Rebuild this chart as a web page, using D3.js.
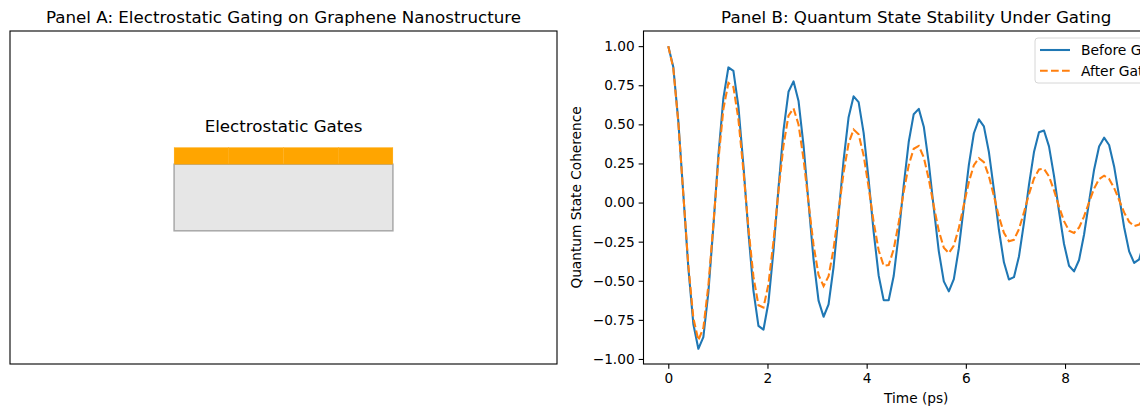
<!DOCTYPE html>
<html>
<head>
<meta charset="utf-8">
<script src="https://cdn.jsdelivr.net/npm/d3@7"></script>
<style>
  body { margin: 0; background: #fff; }
  svg { display: block; font-family: "DejaVu Sans", sans-serif; }
</style>
</head>
<body>
<div id="chart"></div>
<script>
// time samples (ps)
var timePs = [0.000, 0.101, 0.202, 0.303, 0.404, 0.505, 0.606, 0.707, 0.808, 0.909,
  1.010, 1.111, 1.212, 1.313, 1.414, 1.515, 1.616, 1.717, 1.818, 1.919,
  2.020, 2.121, 2.222, 2.323, 2.424, 2.525, 2.626, 2.727, 2.828, 2.929,
  3.030, 3.131, 3.232, 3.333, 3.434, 3.535, 3.636, 3.737, 3.838, 3.939,
  4.040, 4.141, 4.242, 4.343, 4.444, 4.545, 4.646, 4.747, 4.848, 4.949,
  5.051, 5.152, 5.253, 5.354, 5.455, 5.556, 5.657, 5.758, 5.859, 5.960,
  6.061, 6.162, 6.263, 6.364, 6.465, 6.566, 6.667, 6.768, 6.869, 6.970,
  7.071, 7.172, 7.273, 7.374, 7.475, 7.576, 7.677, 7.778, 7.879, 7.980,
  8.081, 8.182, 8.283, 8.384, 8.485, 8.586, 8.687, 8.788, 8.889, 8.990,
  9.091, 9.192, 9.293, 9.394, 9.495, 9.596, 9.697, 9.798, 9.899, 10.000];

var beforeGating = [1.000, 0.866, 0.521, 0.054, -0.417, -0.776, -0.935, -0.860, -0.574, -0.152,
  0.300, 0.668, 0.864, 0.842, 0.613, 0.236, -0.191, -0.563, -0.788, -0.813,
  -0.637, -0.307, 0.092, 0.461, 0.708, 0.775, 0.650, 0.366, -0.003, -0.364,
  -0.627, -0.730, -0.651, -0.412, -0.076, 0.272, 0.546, 0.679, 0.642, 0.446,
  0.145, -0.187, -0.466, -0.624, -0.624, -0.470, -0.203, 0.109, 0.387, 0.565,
  0.599, 0.485, 0.252, -0.038, -0.312, -0.504, -0.568, -0.490, -0.292, -0.026,
  0.241, 0.443, 0.532, 0.487, 0.323, 0.082, -0.174, -0.382, -0.492, -0.477,
  -0.345, -0.130, 0.113, 0.323, 0.449, 0.461, 0.359, 0.171, -0.056, -0.265,
  -0.404, -0.440, -0.367, -0.204, 0.005, 0.210, 0.358, 0.415, 0.368, 0.231,
  0.040, -0.158, -0.312, -0.386, -0.363, -0.251, -0.079, 0.109, 0.267, 0.355];

var afterGating = [1.000, 0.858, 0.511, 0.052, -0.401, -0.738, -0.880, -0.802, -0.530, -0.139,
  0.271, 0.598, 0.765, 0.739, 0.532, 0.203, -0.163, -0.474, -0.657, -0.671,
  -0.521, -0.248, 0.074, 0.365, 0.556, 0.602, 0.499, 0.278, -0.002, -0.271,
  -0.463, -0.534, -0.471, -0.295, -0.054, 0.191, 0.379, 0.467, 0.437, 0.301,
  0.097, -0.124, -0.305, -0.404, -0.400, -0.299, -0.128, 0.068, 0.239, 0.344,
  0.362, 0.289, 0.149, -0.022, -0.181, -0.289, -0.323, -0.275, -0.163, -0.014,
  0.132, 0.239, 0.284, 0.258, 0.169, 0.042, -0.090, -0.194, -0.247, -0.238,
  -0.170, -0.063, 0.054, 0.154, 0.212, 0.216, 0.167, 0.078, -0.026, -0.119,
  -0.180, -0.194, -0.160, -0.088, 0.002, 0.089, 0.150, 0.172, 0.151, 0.094,
  0.016, -0.063, -0.123, -0.151, -0.141, -0.096, -0.030, 0.041, 0.099, 0.131];

var seriesNames = ["Before Gating", "After Gating"];
var xTicks = [0, 2, 4, 6, 8];
var yTicks = [-1.00, -0.75, -0.50, -0.25, 0.00, 0.25, 0.50, 0.75, 1.00];

// panel A pieces, in data units of a 0..10 box
var gateX = [3, 4, 5, 6];
var gateWidth = 1, gateY = 6, gateHeight = 0.5;
var grapheneBox = {x: 3, y: 4, w: 4, h: 2};

var svgWidth = 1140, svgHeight = 409;
var tickFont = "13.7px", titleFont = "16.7px";
var lineW = 2.08, dash = "7.7,3.3";

var svg = d3.select("#chart").append("svg")
  .attr("width", svgWidth)
  .attr("height", svgHeight);

// ---------- Panel A ----------
var a = {left: 10, right: 557, top: 31, bottom: 364};
var ax = d3.scaleLinear().domain([0, 10]).range([a.left, a.right]);
var ay = d3.scaleLinear().domain([0, 10]).range([a.bottom, a.top]);

var gA = svg.append("g");

gA.append("rect")
  .attr("x", ax(grapheneBox.x))
  .attr("y", ay(grapheneBox.y + grapheneBox.h))
  .attr("width", ax(grapheneBox.x + grapheneBox.w) - ax(grapheneBox.x))
  .attr("height", ay(grapheneBox.y) - ay(grapheneBox.y + grapheneBox.h))
  .attr("fill", "#e6e6e6")
  .attr("stroke", "#a8a8a8")
  .attr("stroke-width", 1.5);

gA.selectAll(".gate")
  .data(gateX)
  .enter()
  .append("rect")
  .attr("class", "gate")
  .attr("x", d => ax(d))
  .attr("y", ay(gateY + gateHeight))
  .attr("width", ax(gateWidth) - ax(0))
  .attr("height", ay(gateY) - ay(gateY + gateHeight))
  .attr("fill", "#ffa500")
  .attr("stroke", "#ffaa10")
  .attr("stroke-width", 0.3);

gA.append("text")
  .attr("x", ax(5))
  .attr("y", 132)
  .attr("text-anchor", "middle")
  .attr("font-size", "16.7px")
  .text("Electrostatic Gates");

gA.append("rect")
  .attr("x", a.left).attr("y", a.top)
  .attr("width", a.right - a.left).attr("height", a.bottom - a.top)
  .attr("fill", "none").attr("stroke", "#000").attr("stroke-width", 1.1);

gA.append("text")
  .attr("x", (a.left + a.right) / 2)
  .attr("y", 23)
  .attr("text-anchor", "middle")
  .attr("font-size", titleFont)
  .text("Panel A: Electrostatic Gating on Graphene Nanostructure");

// ---------- Panel B ----------
var b = {left: 643.5, right: 1189, top: 31, bottom: 364};
var xScale = d3.scaleLinear().domain([-0.5, 10.5]).range([b.left, b.right]);
var yScale = d3.scaleLinear().domain([-1.0321, 1.0968]).range([b.bottom, b.top]);

var gB = svg.append("g");

gB.append("clipPath").attr("id", "clipB")
  .append("rect")
  .attr("x", b.left).attr("y", b.top)
  .attr("width", b.right - b.left).attr("height", b.bottom - b.top);

var xAxis = d3.axisBottom(xScale).tickValues(xTicks).tickSize(4.86).tickPadding(4)
  .tickFormat(d3.format("d"));
var yAxis = d3.axisLeft(yScale).tickValues(yTicks).tickSize(4.86).tickPadding(4)
  .tickFormat(d => d3.format(".2f")(d).replace("-", "\u2212"));

var gx = gB.append("g")
  .attr("transform", `translate(0, ${b.bottom})`)
  .call(xAxis);
var gy = gB.append("g")
  .attr("transform", `translate(${b.left}, 0)`)
  .call(yAxis);

[gx, gy].forEach(function(g) {
  g.select(".domain").remove();
  g.selectAll(".tick line").attr("stroke", "#000").attr("stroke-width", 1.1);
  g.selectAll(".tick text").attr("fill", "#000").attr("font-size", tickFont)
    .attr("font-family", "DejaVu Sans, sans-serif");
});

var plotArea = gB.append("g").attr("clip-path", "url(#clipB)");

var line = d3.line()
  .x((d, i) => xScale(timePs[i]))
  .y(d => yScale(d));

plotArea.append("path")
  .datum(beforeGating)
  .attr("d", line)
  .attr("fill", "none")
  .attr("stroke", "#1f77b4")
  .attr("stroke-width", lineW)
  .attr("stroke-linejoin", "round");

plotArea.append("path")
  .datum(afterGating)
  .attr("d", line)
  .attr("fill", "none")
  .attr("stroke", "#ff7f0e")
  .attr("stroke-width", lineW)
  .attr("stroke-dasharray", dash);

gB.append("rect")
  .attr("x", b.left).attr("y", b.top)
  .attr("width", b.right - b.left).attr("height", b.bottom - b.top)
  .attr("fill", "none").attr("stroke", "#000").attr("stroke-width", 1.1);

gB.append("text")
  .attr("x", (b.left + b.right) / 2)
  .attr("y", 23)
  .attr("text-anchor", "middle")
  .attr("font-size", titleFont)
  .text("Panel B: Quantum State Stability Under Gating");

gB.append("text")
  .attr("x", (b.left + b.right) / 2)
  .attr("y", 403)
  .attr("text-anchor", "middle")
  .attr("font-size", tickFont)
  .text("Time (ps)");

gB.append("text")
  .attr("transform", `translate(581, ${(b.top + b.bottom) / 2}) rotate(-90)`)
  .attr("text-anchor", "middle")
  .attr("font-size", tickFont)
  .text("Quantum State Coherence");

// legend (cut by the figure edge, as in the original)
var legend = gB.append("g").attr("transform", "translate(1035, 38)");
legend.append("rect")
  .attr("x", 0).attr("y", 0)
  .attr("width", 150).attr("height", 45)
  .attr("rx", 3)
  .attr("fill", "#fff").attr("fill-opacity", 0.8)
  .attr("stroke", "#d6d6d6").attr("stroke-width", 1);

var legendRows = legend.selectAll(".row")
  .data(seriesNames)
  .enter()
  .append("g")
  .attr("transform", (d, i) => `translate(0, ${12 + i * 20.7})`);

legendRows.append("line")
  .attr("x1", 5).attr("x2", 35)
  .attr("stroke", (d, i) => i === 0 ? "#1f77b4" : "#ff7f0e")
  .attr("stroke-width", lineW)
  .attr("stroke-dasharray", (d, i) => i === 0 ? null : dash);

legendRows.append("text")
  .attr("x", 46)
  .attr("y", 5)
  .attr("font-size", "13.9px")
  .text(d => d);
</script>
</body>
</html>
